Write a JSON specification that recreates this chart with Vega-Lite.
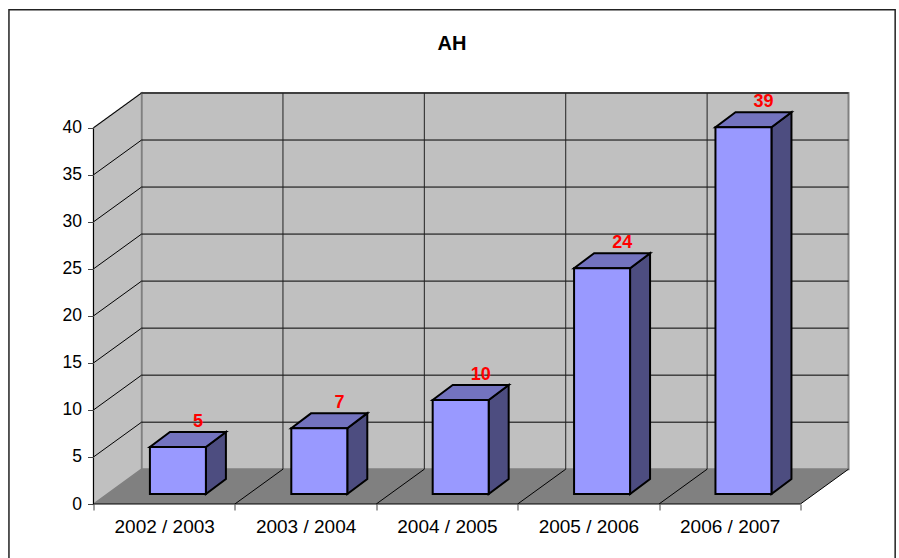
{
"$schema":"https://vega.github.io/schema/vega-lite/v6.json",
"width":755,"height":411,
"autosize":{"type":"none"},
"padding":{"left":93.5,"top":93,"right":50.5,"bottom":54},
"background":"white",
"config":{"view":{"stroke":null},"font":"Liberation Sans"},
"title":{"text":"AH","anchor":"middle","dx":-19,"offset":-45,"fontSize":20,"fontWeight":"bold","font":"Liberation Sans","color":"black"},
"datasets":{
"bars":[{"period":"2002 / 2003","i":0,"value":5},{"period":"2003 / 2004","i":1,"value":7},{"period":"2004 / 2005","i":2,"value":10},{"period":"2005 / 2006","i":3,"value":24},{"period":"2006 / 2007","i":4,"value":39}],
"ticks":[{"v":0},{"v":5},{"v":10},{"v":15},{"v":20},{"v":25},{"v":30},{"v":35},{"v":40}],
"cats":[{"c":1},{"c":2},{"c":3},{"c":4}],
"depth":[{"d":0},{"d":1}],
"floorcats":[{"c":5}],
"one":[{"a":1}]
},
"data":{"name":"one"},
"layer":[
{"mark":{"type":"rect","fill":"white","stroke":"#222222","strokeWidth":1.5},
 "encoding":{"x":{"datum":-0.598,"type":"quantitative","scale":{"domain":[0,5.34],"nice":false,"zero":false},"axis":{"zindex":1,"values":[0,1,2,3,4,5],"title":null,"labels":false,"domain":false,"grid":false,"tickSize":6,"tickColor":"#444444","tickWidth":1,"orient":"bottom"}},
 "x2":{"datum":5.67},
 "y":{"datum":52.55,"type":"quantitative","scale":{"domain":[0,43.7],"nice":false,"zero":false},"axis":{"zindex":1,"values":[0,5,10,15,20,25,30,35,40],"title":null,"domain":false,"grid":false,"tickSize":6,"tickColor":"#444444","tickWidth":1,"labelFontSize":17.5,"labelFont":"Liberation Sans","labelColor":"black","labelPadding":6}},
 "y2":{"datum":-8}}},
{"mark":{"type":"rect","fill":"#c0c0c0","stroke":"#808080","strokeWidth":2},
 "encoding":{"x":{"datum":0.34,"type":"quantitative","axis":{"zindex":1,"values":[0.5,1.5,2.5,3.5,4.5],"title":null,"domain":false,"grid":false,"ticks":false,"labelPadding":13,"labelFontSize":19,"labelFont":"Liberation Sans","labelColor":"black","orient":"bottom","labelExpr":"['2002 / 2003','2003 / 2004','2004 / 2005','2005 / 2006','2006 / 2007'][floor(datum.value)]"}},"x2":{"datum":5.34},"y":{"datum":3.7,"type":"quantitative","axis":null},"y2":{"datum":43.7}}},
{"data":{"name":"depth"},
 "transform":[{"calculate":"datum.d*0.34","as":"x"},{"calculate":"datum.d*3.7","as":"y0"},{"calculate":"40+datum.d*3.7","as":"y1"}],
 "mark":{"type":"area","fill":"#c0c0c0","stroke":"#808080","strokeWidth":1.5},
 "encoding":{"x":{"field":"x","type":"quantitative","axis":null},"y":{"field":"y1","type":"quantitative","axis":null},"y2":{"field":"y0"}}},
{"data":{"name":"depth"},
 "transform":[{"calculate":"datum.d*3.7","as":"y"},{"calculate":"datum.d*0.34","as":"x0"},{"calculate":"5+datum.d*0.34","as":"x1"}],
 "mark":{"type":"area","orient":"horizontal","fill":"#808080"},
 "encoding":{"y":{"field":"y","type":"quantitative","axis":null},"x":{"field":"x0","type":"quantitative","axis":null},"x2":{"field":"x1"}}},
{"data":{"name":"ticks"},"transform":[{"filter":"datum.v>0"},{"calculate":"datum.v+3.7","as":"yb"}],
 "mark":{"type":"rule","color":"black","strokeWidth":1},
 "encoding":{"x":{"datum":0.34,"type":"quantitative","axis":null},"x2":{"datum":5.34},"y":{"field":"yb","type":"quantitative","axis":null}}},
{"data":{"name":"ticks"},"transform":[{"filter":"datum.v>0"},{"calculate":"datum.v+3.7","as":"yb"}],
 "mark":{"type":"rule","color":"black","strokeWidth":1},
 "encoding":{"x":{"datum":0,"type":"quantitative","axis":null},"x2":{"datum":0.34},"y":{"field":"v","type":"quantitative","axis":null},"y2":{"field":"yb"}}},
{"data":{"name":"cats"},"transform":[{"calculate":"datum.c+0.34","as":"xb"}],
 "mark":{"type":"rule","color":"#222222","strokeWidth":1},
 "encoding":{"x":{"field":"xb","type":"quantitative","axis":null},"y":{"datum":3.7,"type":"quantitative","axis":null},"y2":{"datum":43.7}}},
{"data":{"name":"cats"},"transform":[{"calculate":"datum.c+0.34","as":"xb"}],
 "mark":{"type":"rule","color":"black","strokeWidth":1},
 "encoding":{"x":{"field":"c","type":"quantitative","axis":null},"x2":{"field":"xb"},"y":{"datum":0,"type":"quantitative","axis":null},"y2":{"datum":3.7}}},
{"data":{"name":"floorcats"},"transform":[{"calculate":"datum.c+0.34","as":"xb"}],
 "mark":{"type":"rule","color":"black","strokeWidth":1},
 "encoding":{"x":{"field":"c","type":"quantitative","axis":null},"x2":{"field":"xb"},"y":{"datum":0,"type":"quantitative","axis":null},"y2":{"datum":3.7}}},
{"mark":{"type":"rule","color":"black","strokeWidth":1},
 "encoding":{"x":{"datum":0,"type":"quantitative","axis":null},"x2":{"datum":5},"y":{"datum":0,"type":"quantitative","axis":null}}},
{"mark":{"type":"rule","color":"black","strokeWidth":1},
 "encoding":{"x":{"datum":0,"type":"quantitative","axis":null},"y":{"datum":0,"type":"quantitative","axis":null},"y2":{"datum":40}}},
{"data":{"name":"bars"},
 "transform":[{"calculate":"[0,1]","as":"d"},{"flatten":["d"]},
  {"calculate":"datum.i+0.795+datum.d*0.1415","as":"x"},
  {"calculate":"1.06+datum.d*1.6","as":"y0"},
  {"calculate":"datum.value+1.06+datum.d*1.6","as":"y1"}],
 "mark":{"type":"area","fill":"#4d4d80","stroke":"black","strokeWidth":2},
 "encoding":{"detail":{"field":"period"},"x":{"field":"x","type":"quantitative","axis":null},"y":{"field":"y1","type":"quantitative","axis":null},"y2":{"field":"y0"}}},
{"data":{"name":"bars"},
 "transform":[{"calculate":"[0,1]","as":"d"},{"flatten":["d"]},
  {"calculate":"datum.i+0.399+datum.d*0.1415","as":"x0"},
  {"calculate":"datum.i+0.795+datum.d*0.1415","as":"x1"},
  {"calculate":"datum.value+1.06+datum.d*1.6","as":"y"}],
 "mark":{"type":"area","orient":"horizontal","fill":"#7373bf","stroke":"black","strokeWidth":2},
 "encoding":{"detail":{"field":"period"},"y":{"field":"y","type":"quantitative","axis":null},"x":{"field":"x0","type":"quantitative","axis":null},"x2":{"field":"x1"}}},
{"data":{"name":"bars"},
 "transform":[{"calculate":"datum.i+0.399","as":"x0"},{"calculate":"datum.i+0.795","as":"x1"},{"calculate":"datum.value+1.06","as":"y1"}],
 "mark":{"type":"rect","fill":"#9999ff","stroke":"black","strokeWidth":2},
 "encoding":{"x":{"field":"x0","type":"quantitative","axis":null},"x2":{"field":"x1"},"y":{"field":"y1","type":"quantitative","axis":null},"y2":{"datum":1.06}}},
{"data":{"name":"bars"},
 "transform":[{"calculate":"datum.i+0.598+0.1415","as":"x"},{"calculate":"datum.value+1.06+1.6","as":"y"}],
 "mark":{"type":"text","color":"#ff0000","fontWeight":"bold","fontSize":18,"font":"Liberation Sans","baseline":"alphabetic","dy":-5},
 "encoding":{"x":{"field":"x","type":"quantitative","axis":null},"y":{"field":"y","type":"quantitative","axis":null},"text":{"field":"value","type":"quantitative"}}}
],
"resolve":{"axis":{"x":"independent","y":"independent"}}
}
